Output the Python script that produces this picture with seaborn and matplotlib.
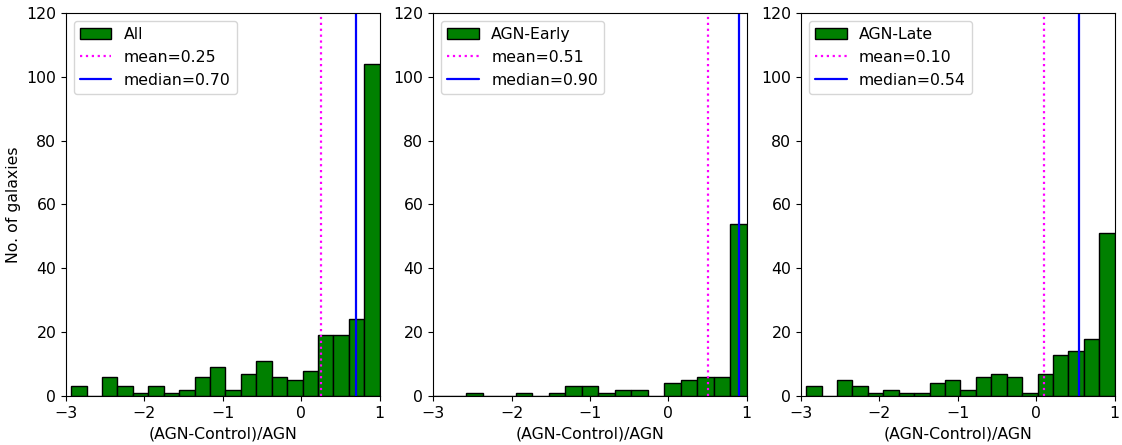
import numpy as np
import pandas as pd
import matplotlib
matplotlib.use("Agg")
import matplotlib.pyplot as plt
import seaborn as sns
from matplotlib.patches import Patch
from matplotlib.lines import Line2D

# ---- data ----
titles = ["All", "AGN-Early", "AGN-Late"]
lo_all, lo_early, lo_late = -2.935, -3.0, -2.935
nbins_all, nbins_early, nbins_late = 20, 19, 20
counts_all = [3, 0, 6, 3, 1, 3, 1, 2, 6, 9, 2, 7, 11, 6, 5, 8, 19, 19, 24, 104]
counts_early = [0, 0, 1, 0, 0, 1, 0, 1, 3, 3, 1, 2, 2, 0, 4, 5, 6, 6, 54]
counts_late = [3, 0, 5, 3, 1, 2, 1, 1, 4, 5, 2, 6, 7, 6, 1, 7, 13, 14, 18, 51]
means = [0.25, 0.51, 0.10]
medians = [0.70, 0.90, 0.54]
xticks = [-3, -2, -1, 0, 1]
yticks = [0, 20, 40, 60, 80, 100, 120]

sns.set_style("ticks")
fs = 11.3
plt.rcParams.update({
    "font.family": ["DejaVu Sans"],
    "font.size": fs,
    "text.color": "black",
    "axes.labelcolor": "black",
    "xtick.color": "black",
    "ytick.color": "black",
    "axes.edgecolor": "black",
})

fig = plt.figure(figsize=(11.22, 4.45), dpi=100)
lefts = [0.0588, 0.3860, 0.7139]
axes = [fig.add_axes([l, 0.110, 0.2796, 0.861]) for l in lefts]

datasets = [(lo_all, nbins_all, counts_all),
            (lo_early, nbins_early, counts_early),
            (lo_late, nbins_late, counts_late)]

for i, (ax, (lo, nb, cnt)) in enumerate(zip(axes, datasets)):
    edges = [float(e) for e in np.linspace(lo, 1.0, nb + 1)]
    centers = [0.5 * (a + b) for a, b in zip(edges[:-1], edges[1:])]
    df = pd.DataFrame({"x": centers, "w": cnt})
    sns.histplot(data=df, x="x", weights="w", bins=edges, color="green",
                 edgecolor="black", linewidth=1.0, alpha=1.0, ax=ax)
    ax.axvline(means[i], color="magenta", linestyle=":", linewidth=1.6)
    ax.axvline(medians[i], color="blue", linestyle="-", linewidth=1.6)
    ax.set_xlim(-3, 1)
    ax.set_ylim(0, 120)
    ax.set_xticks(xticks)
    ax.set_yticks(yticks)
    ax.tick_params(labelsize=fs, direction="out", length=3.5, colors="black")
    ax.set_xlabel("(AGN-Control)/AGN", fontsize=fs)
    if i == 0:
        ax.set_ylabel("No. of galaxies", fontsize=fs)
    else:
        ax.set_ylabel("")
    for s in ax.spines.values():
        s.set_visible(True)
        s.set_color("black")
        s.set_linewidth(0.8)
    handles = [Patch(facecolor="green", edgecolor="black"),
               Line2D([], [], color="magenta", linestyle=":", linewidth=1.6),
               Line2D([], [], color="blue", linestyle="-", linewidth=1.6)]
    labels = [titles[i], f"mean={means[i]:.2f}", f"median={medians[i]:.2f}"]
    ax.legend(handles, labels, loc="upper left", fontsize=fs, frameon=True)

fig.savefig("out.png", dpi=100)
